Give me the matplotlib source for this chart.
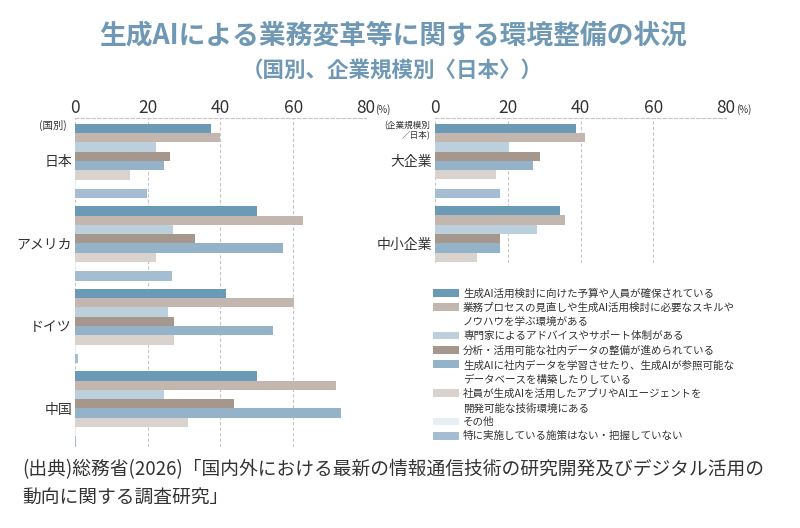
import matplotlib
matplotlib.use("Agg")
import matplotlib.pyplot as plt
from matplotlib.patches import Rectangle
import numpy as np

plt.rcParams['font.family'] = ['Noto Sans CJK JP', 'DejaVu Sans']

# --- data (%) ---
countries = ["日本", "アメリカ", "ドイツ", "中国"]
sizes = ["大企業", "中小企業"]

series_labels = [
    "生成AI活用検討に向けた予算や人員が確保されている",
    "業務プロセスの見直しや生成AI活用検討に必要なスキルや\nノウハウを学ぶ環境がある",
    "専門家によるアドバイスやサポート体制がある",
    "分析・活用可能な社内データの整備が進められている",
    "生成AIに社内データを学習させたり、生成AIが参照可能な\nデータベースを構築したりしている",
    "社員が生成AIを活用したアプリやAIエージェントを\n開発可能な技術環境にある",
    "その他",
    "特に実施している施策はない・把握していない",
]
colors = ["#6b9ab7", "#c3b6ae", "#bccfdc", "#a6978d",
          "#95b3c8", "#dad2cd", "#e8eff4", "#a5bdd1"]

# one row per country, one value per series
country_vals = [
    [37.4, 40.0, 22.2, 26.1, 24.5, 15.2, 0.3, 19.8],   # 日本
    [50.0, 62.6, 27.1, 33.0, 57.2, 22.2, 0.3, 26.6],   # アメリカ
    [41.5, 60.3, 25.6, 27.4, 54.4, 27.4, 0.3, 0.8],    # ドイツ
    [50.0, 71.7, 24.5, 43.8, 73.0, 31.0, 0.3, 0.4],    # 中国
]
size_vals = [
    [38.8, 41.3, 20.4, 29.0, 27.0, 16.9, 0.0, 17.9],   # 大企業
    [34.4, 35.7, 28.0, 17.9, 17.9, 11.7, np.nan, np.nan],  # 中小企業 (cut off)
]

xticks = [0, 20, 40, 60, 80]
GROUP = 8.87  # group pitch in bar slots
TXT = "#333333"
GRID = "#c6c6c6"

fig = plt.figure(figsize=(8, 5.28), dpi=100)
W, H = 800, 528


def px_axes(x0, y0, x1, y1):
    return fig.add_axes([x0 / W, 1 - y1 / H, (x1 - x0) / W, (y1 - y0) / H])


def draw_panel(ax, groups, vals, ybottom):
    for g, row in enumerate(vals):
        for i, v in enumerate(row):
            ax.barh(g * GROUP + i, v, height=1.0, color=colors[i],
                    edgecolor="none", zorder=2)
    ax.set_xlim(0, 80)
    ax.set_ylim(ybottom, -1.08)
    ax.xaxis.tick_top()
    ax.set_xticks(xticks)
    ax.set_xticklabels([str(t) for t in xticks], fontsize=12.5, color=TXT)
    ax.tick_params(axis='x', length=0, pad=1)
    ax.set_yticks([g * GROUP + 3.5 for g in range(len(groups))])
    ax.set_yticklabels(groups, fontsize=10, color=TXT)
    ax.tick_params(axis='y', length=0, pad=2)
    ax.grid(axis='x', color=GRID, linestyle=(0, (3, 2)), linewidth=0.8, zorder=0)
    for s in ['left', 'right', 'bottom']:
        ax.spines[s].set_visible(False)
    ax.spines['top'].set_color(GRID)
    ax.spines['top'].set_linestyle((0, (3, 2)))
    ax.spines['top'].set_linewidth(0.8)


ax1 = px_axes(74.7, 118.3, 366, 446.7)
draw_panel(ax1, countries, country_vals, 34.22)
ax2 = px_axes(434.7, 118.3, 726.3, 263)
draw_panel(ax2, sizes, size_vals, 14.48)

# (%) marks and small panel headers
fig.text(375 / W, 1 - 110 / H, "(%)", fontsize=7, color=TXT, va='center')
fig.text(736 / W, 1 - 110 / H, "(%)", fontsize=7, color=TXT, va='center')
fig.text(67 / W, 1 - 125 / H, "(国別)", fontsize=7.5, color=TXT,
         ha='right', va='center')
fig.text(430 / W, 1 - 131 / H, "(企業規模別\n／日本)", fontsize=6.2, color=TXT,
         ha='right', va='center', multialignment='right', linespacing=1.15)

# title
title_c = "#6f98b4"
fig.text(0.492, 1 - 35 / H, "生成AIによる業務変革等に関する環境整備の状況",
         fontsize=19.3, fontweight='bold', color=title_c, ha='center', va='center')
fig.text(0.49, 1 - 70 / H, "（国別、企業規模別〈日本〉）",
         fontsize=15.5, fontweight='bold', color=title_c, ha='center', va='center')

# legend
row_pitch = 14.3
row = 0
for i, lab in enumerate(series_labels):
    yc = 292.7 + row * row_pitch
    fig.patches.append(Rectangle((433 / W, 1 - (yc + 3.8) / H), 26 / W, 7.6 / H,
                                 transform=fig.transFigure, color=colors[i],
                                 linewidth=0))
    fig.text(463 / W, 1 - (yc - 4.5) / H, lab, fontsize=7.6, color=TXT,
             ha='left', va='top', linespacing=1.58)
    row += lab.count("\n") + 1

# source
fig.text(22 / W, 1 - 470 / H,
         "(出典)総務省(2026)「国内外における最新の情報通信技術の研究開発及びデジタル活用の",
         fontsize=13.5, color=TXT, ha='left', va='center')
fig.text(22 / W, 1 - 497 / H, "動向に関する調査研究」",
         fontsize=13.5, color=TXT, ha='left', va='center')

fig.savefig("out.png", dpi=100, facecolor="white")
